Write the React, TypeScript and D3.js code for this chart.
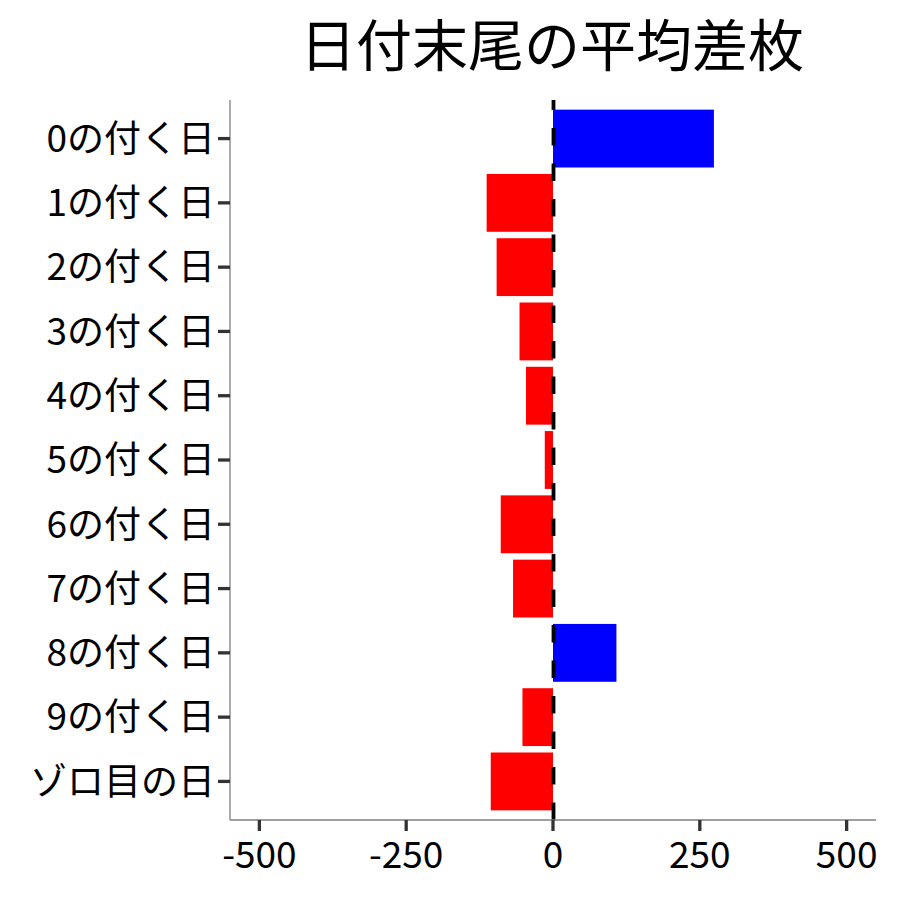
import { useEffect, useRef } from 'react';
import * as d3 from 'd3';

const categories = ['0の付く日', '1の付く日', '2の付く日', '3の付く日', '4の付く日', '5の付く日', '6の付く日', '7の付く日', '8の付く日', '9の付く日', 'ゾロ目の日'];
const values = [274, -113, -96, -57, -46, -14, -89, -68, 108, -52, -106];
const xTicks = [-500, -250, 0, 250, 500];
const title = '日付末尾の平均差枚';

const FONT = '"Noto Sans CJK JP", "Noto Sans", sans-serif';

export default function App() {
  const svgRef = useRef<SVGSVGElement>(null);

  useEffect(() => {
    if (!svgRef.current) return;
    const svg = d3.select(svgRef.current);
    svg.selectAll('*').remove();

    const left = 230, right = 876, top = 100, bottom = 820;

    // x: -550..550 like ggplot's expanded range
    const x = d3.scaleLinear().domain([-550, 550]).range([left, right]);
    // y: discrete positions 1..n with 0.6 expansion
    const n = categories.length;
    const y = d3.scaleLinear().domain([0.4, n + 0.6]).range([top, bottom]);
    const step = y(2) - y(1);

    svg.append('rect').attr('width', 900).attr('height', 900).attr('fill', '#fff');

    // bars
    svg.append('g')
      .selectAll('rect')
      .data(values)
      .join('rect')
      .attr('x', d => x(Math.min(0, d)))
      .attr('width', d => Math.abs(x(d) - x(0)))
      .attr('y', (_d, i) => y(i + 1) - step * 0.45)
      .attr('height', step * 0.9)
      .attr('fill', d => (d >= 0 ? '#0000ff' : '#ff0000'));

    // zero line (dashed), drawn bottom to top
    svg.append('line')
      .attr('x1', x(0) + 0.5).attr('x2', x(0) + 0.5)
      .attr('y1', bottom).attr('y2', top)
      .attr('stroke', '#000')
      .attr('stroke-width', 3.8)
      .attr('stroke-dasharray', '17.5 18');

    // axes
    const axisColor = '#7f7f7f';
    svg.append('line')
      .attr('x1', left).attr('x2', left).attr('y1', top).attr('y2', bottom)
      .attr('stroke', axisColor).attr('stroke-width', 1.3);
    svg.append('line')
      .attr('x1', left).attr('x2', right).attr('y1', bottom).attr('y2', bottom)
      .attr('stroke', axisColor).attr('stroke-width', 1.3);

    // y ticks + labels
    const yg = svg.append('g');
    categories.forEach((c, i) => {
      const cy = y(i + 1);
      yg.append('line')
        .attr('x1', left - 12).attr('x2', left)
        .attr('y1', cy).attr('y2', cy)
        .attr('stroke', '#333').attr('stroke-width', 3.3);
      yg.append('text')
        .attr('x', left - 15)
        .attr('y', cy)
        .attr('dy', '0.36em')
        .attr('text-anchor', 'end')
        .attr('font-family', FONT)
        .attr('font-size', 37)
        .attr('fill', '#000')
        .text(c);
    });

    // x ticks + labels
    const xg = svg.append('g');
    xTicks.forEach(t => {
      xg.append('line')
        .attr('x1', x(t)).attr('x2', x(t))
        .attr('y1', bottom).attr('y2', bottom + 11)
        .attr('stroke', '#333').attr('stroke-width', 3.3);
      xg.append('text')
        .attr('x', x(t))
        .attr('y', 868)
        .attr('text-anchor', 'middle')
        .attr('font-family', FONT)
        .attr('font-size', 37)
        .attr('fill', '#000')
        .text(String(t));
    });

    // title
    svg.append('text')
      .attr('x', (left + right) / 2 - 1)
      .attr('y', 66)
      .attr('text-anchor', 'middle')
      .attr('font-family', FONT)
      .attr('font-size', 56)
      .attr('fill', '#000')
      .text(title);
  }, []);

  return (
    <svg ref={svgRef} width={900} height={900} style={{ display: 'block', position: 'absolute', left: 0, top: 0 }} />
  );
}
